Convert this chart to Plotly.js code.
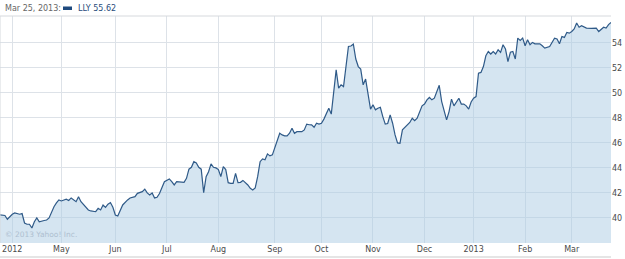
<!DOCTYPE html>
<html>
<head>
<meta charset="utf-8">
<script src="https://cdn.plot.ly/plotly-3.0.1.min.js"></script>
<style>
  html, body { margin: 0; padding: 0; background: #ffffff; }
  #chart { width: 625px; height: 259px; }
</style>
</head>
<body>
<div id="chart"></div>
<script>
// ---- Data (LLY daily close) ----
const ticker = "LLY";
const lastDateLabel = "Mar 25, 2013:";
const lastClose = 55.62;

const dates = [
  "2012-03-26","2012-03-28","2012-03-29","2012-04-02","2012-04-03","2012-04-05","2012-04-09","2012-04-10",
  "2012-04-11","2012-04-12","2012-04-13","2012-04-16","2012-04-17","2012-04-18","2012-04-20","2012-04-23",
  "2012-04-24","2012-04-26","2012-04-27","2012-04-30","2012-05-01","2012-05-03","2012-05-04","2012-05-07",
  "2012-05-09","2012-05-10","2012-05-11","2012-05-15","2012-05-16","2012-05-17","2012-05-21","2012-05-22",
  "2012-05-23","2012-05-24","2012-05-25","2012-05-29","2012-05-30","2012-05-31","2012-06-01","2012-06-04",
  "2012-06-05","2012-06-06","2012-06-08","2012-06-11","2012-06-13","2012-06-14","2012-06-18","2012-06-19",
  "2012-06-20","2012-06-21","2012-06-22","2012-06-25","2012-06-26","2012-06-27","2012-06-29","2012-07-03",
  "2012-07-05","2012-07-06","2012-07-09","2012-07-10","2012-07-12","2012-07-13","2012-07-16","2012-07-17",
  "2012-07-18","2012-07-19","2012-07-20","2012-07-23","2012-07-24","2012-07-25","2012-07-26","2012-07-27",
  "2012-07-30","2012-07-31","2012-08-01","2012-08-02","2012-08-03","2012-08-06","2012-08-07","2012-08-08",
  "2012-08-09","2012-08-10","2012-08-13","2012-08-14","2012-08-15","2012-08-17","2012-08-20","2012-08-21",
  "2012-08-22","2012-08-23","2012-08-24","2012-08-27","2012-08-28","2012-08-29","2012-08-30","2012-08-31",
  "2012-09-04","2012-09-05","2012-09-06","2012-09-07","2012-09-10","2012-09-11","2012-09-12","2012-09-13",
  "2012-09-14","2012-09-17","2012-09-19","2012-09-20","2012-09-21","2012-09-24","2012-09-25","2012-09-26",
  "2012-09-27","2012-09-28","2012-10-01","2012-10-02","2012-10-03","2012-10-04","2012-10-05","2012-10-08",
  "2012-10-09","2012-10-10","2012-10-11","2012-10-12","2012-10-15","2012-10-16","2012-10-17","2012-10-18",
  "2012-10-19","2012-10-22","2012-10-23","2012-10-24","2012-10-25","2012-10-26","2012-10-31","2012-11-01",
  "2012-11-02","2012-11-05","2012-11-06","2012-11-07","2012-11-08","2012-11-09","2012-11-12","2012-11-13",
  "2012-11-14","2012-11-15","2012-11-16","2012-11-19","2012-11-20","2012-11-21","2012-11-23","2012-11-26",
  "2012-11-27","2012-11-28","2012-11-29","2012-11-30","2012-12-03","2012-12-04","2012-12-05","2012-12-06",
  "2012-12-07","2012-12-10","2012-12-11","2012-12-12","2012-12-13","2012-12-14","2012-12-17","2012-12-18",
  "2012-12-19","2012-12-20","2012-12-21","2012-12-24","2012-12-26","2012-12-27","2012-12-28","2012-12-31",
  "2013-01-02","2013-01-03","2013-01-04","2013-01-07","2013-01-08","2013-01-09","2013-01-10","2013-01-11",
  "2013-01-14","2013-01-15","2013-01-16","2013-01-17","2013-01-18","2013-01-22","2013-01-23","2013-01-24",
  "2013-01-25","2013-01-28","2013-01-29","2013-01-30","2013-01-31","2013-02-01","2013-02-04","2013-02-05",
  "2013-02-06","2013-02-07","2013-02-11","2013-02-12","2013-02-13","2013-02-15","2013-02-19","2013-02-20",
  "2013-02-21","2013-02-22","2013-02-25","2013-02-26","2013-02-27","2013-02-28","2013-03-01","2013-03-04",
  "2013-03-05","2013-03-06","2013-03-07","2013-03-08","2013-03-11","2013-03-13","2013-03-15","2013-03-18",
  "2013-03-19","2013-03-20","2013-03-21","2013-03-22","2013-03-25"
];

const closes = [
  40.24,40.2,39.9,40.3,40.4,40.3,40.35,39.6,
  39.5,39.5,39.2,39.7,40.0,39.7,39.8,39.84,
  40.0,40.9,41.2,41.44,41.36,41.5,41.4,41.6,
  41.3,41.7,41.3,40.85,40.64,40.56,40.5,40.77,
  40.64,41.04,40.85,41.1,41.23,40.85,40.24,40.16,
  40.64,41.04,41.44,41.6,41.7,41.97,42.1,42.3,
  42.0,41.84,42.0,41.6,41.65,41.95,42.9,43.12,
  42.9,42.64,42.9,42.88,42.85,43.17,43.9,44.05,
  44.5,44.4,44.05,43.9,42.03,43.3,43.7,44.32,
  44.05,44.0,43.87,43.3,44.1,43.87,42.82,42.77,
  42.77,43.57,42.82,42.85,43.0,42.64,42.37,42.24,
  42.4,43.3,44.5,44.72,44.65,45.12,44.96,45.04,
  45.57,46.1,46.77,46.64,46.56,46.56,46.77,47.17,
  46.77,46.9,46.9,47.04,47.5,47.45,47.44,47.25,
  47.57,47.5,47.57,47.9,48.37,48.77,48.3,50.37,
  51.84,50.37,50.64,50.5,52.37,53.7,53.74,53.9,
  52.7,52.1,51.9,50.64,51.1,49.97,48.7,49.04,
  48.64,48.77,48.85,48.1,47.5,47.55,48.24,47.57,
  46.64,46.0,45.97,47.04,47.23,47.44,47.63,47.97,
  47.77,47.97,48.5,48.96,49.1,49.44,49.63,49.44,
  49.57,50.03,50.6,49.3,48.5,47.84,48.5,49.5,
  48.96,49.23,49.57,49.1,49.1,48.96,48.7,49.27,
  49.57,49.7,51.57,51.63,52.1,52.96,53.3,53.1,
  53.3,53.1,53.44,53.23,53.84,53.5,52.5,53.24,
  53.3,52.7,54.37,54.19,54.37,53.76,54.24,53.84,
  54.03,53.92,53.92,53.76,53.57,53.7,54.03,54.37,
  54.3,53.92,54.5,54.43,54.82,54.77,54.9,55.1,
  55.58,55.24,55.37,55.24,55.17,55.15,55.17,54.9,
  55.04,55.24,55.17,55.45,55.62
];

// Market holidays / closures (non-trading weekdays) in the window
const holidays = ["2012-04-06","2012-05-28","2012-07-04","2012-09-03","2012-10-29","2012-10-30",
                  "2012-11-22","2012-12-25","2013-01-01","2013-01-21","2013-02-18"];

// Month ticks (first trading day of each month)
const tickDates = ["2012-04-02","2012-05-01","2012-06-01","2012-07-02","2012-08-01","2012-09-04",
                   "2012-10-01","2012-11-01","2012-12-03","2013-01-02","2013-02-01","2013-03-01"];
const tickLabels = ["2012","May","Jun","Jul","Aug","Sep","Oct","Nov","Dec","2013","Feb","Mar"];

const priceTicks = [40, 42, 44, 46, 48, 50, 52, 54];

// ---- Styles ----
const lineColor = "#2f5a88";
const gridColor = "#dde2e8";
const labelFont = { family: "DejaVu Sans", size: 8, color: "#4a4a4a" };

const trace = {
  x: dates,
  y: closes,
  type: "scatter",
  mode: "lines",
  line: { color: lineColor, width: 1.2 },
  fill: "tozeroy",
  fillcolor: "rgba(171,203,227,0.5)",
  hoverinfo: "skip"
};

const layout = {
  width: 625,
  height: 259,
  margin: { l: 0, r: 14, t: 16, b: 16 },
  paper_bgcolor: "#ffffff",
  plot_bgcolor: "#ffffff",
  showlegend: false,
  xaxis: {
    type: "date",
    range: [dates[0], dates[dates.length - 1]],
    rangebreaks: [
      { bounds: ["sat", "mon"] },
      { values: holidays }
    ],
    tickmode: "array",
    tickvals: tickDates,
    ticktext: tickLabels,
    showgrid: true,
    gridcolor: gridColor,
    gridwidth: 1,
    zeroline: false,
    showline: false,
    ticks: "",
    tickfont: labelFont
  },
  yaxis: {
    side: "right",
    range: [38.0, 56.14],
    tickmode: "array",
    tickvals: priceTicks,
    ticktext: priceTicks.map(String),
    showgrid: true,
    gridcolor: gridColor,
    gridwidth: 1,
    zeroline: false,
    showline: false,
    ticks: "",
    tickfont: labelFont
  },
  shapes: [
    // plot frame: top and left edges
    { type: "line", xref: "paper", yref: "paper", x0: 0, x1: 1, y0: 1, y1: 1,
      line: { color: "#d6d9dd", width: 1 } },
    { type: "line", xref: "paper", yref: "paper", x0: 0, x1: 0, y0: 0, y1: 1,
      line: { color: "#d6d9dd", width: 1 } },
    // bottom rule under the axis labels
    { type: "line", xref: "paper", yref: "paper", x0: 0, x1: 1, y0: -0.062, y1: -0.062,
      line: { color: "#dcdcdc", width: 1.5 } },
    // legend swatch
    { type: "rect", xref: "paper", yref: "paper",
      xsizemode: "pixel", xanchor: 0, x0: 63, x1: 72,
      ysizemode: "pixel", yanchor: 1, y0: 6, y1: 9.5,
      fillcolor: "#1f4a7e", line: { width: 0 } }
  ],
  annotations: [
    { xref: "paper", yref: "paper", x: 0, y: 1, xanchor: "left", yanchor: "middle",
      xshift: 3, yshift: 8, showarrow: false, text: lastDateLabel,
      font: { family: "DejaVu Sans", size: 8, color: "#666666" } },
    { xref: "paper", yref: "paper", x: 0, y: 1, xanchor: "left", yanchor: "middle",
      xshift: 76, yshift: 8, showarrow: false, text: ticker + " " + lastClose.toFixed(2),
      font: { family: "DejaVu Sans", size: 8, color: "#2a4c7c" } },
    { xref: "paper", yref: "paper", x: 0, y: 0, xanchor: "left", yanchor: "bottom",
      xshift: 3, yshift: 2, showarrow: false, text: "© 2013 Yahoo! Inc.",
      font: { family: "DejaVu Sans", size: 7.5, color: "#aebfd0" } }
  ]
};

Plotly.newPlot("chart", [trace], layout, { staticPlot: true, displayModeBar: false });
</script>
</body>
</html>
